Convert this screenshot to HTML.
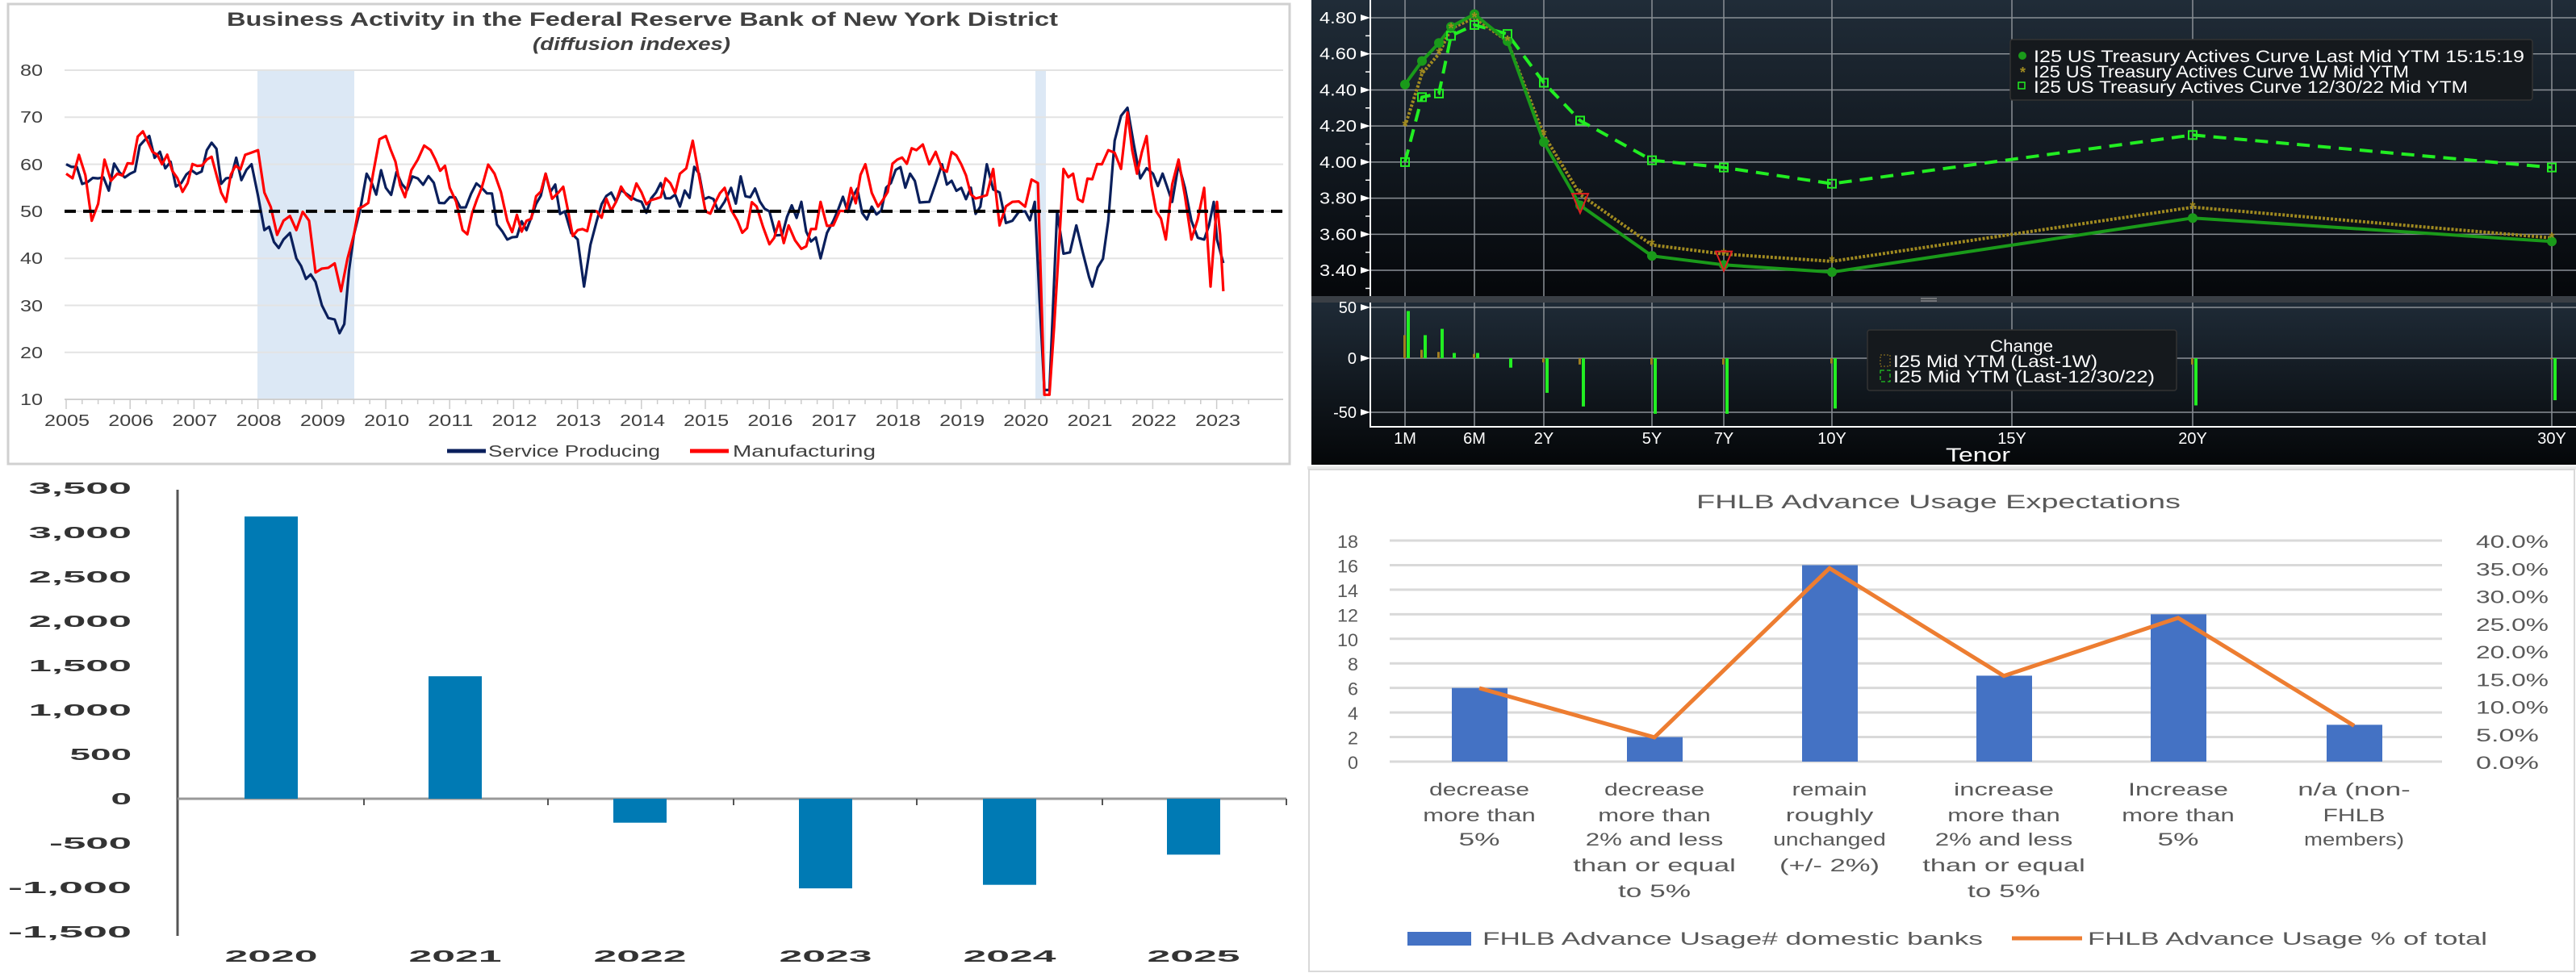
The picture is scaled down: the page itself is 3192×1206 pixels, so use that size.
<!DOCTYPE html>
<html><head><meta charset="utf-8"><style>
html,body{margin:0;padding:0;background:#fff}
svg{display:block}
text{font-family:"Liberation Sans",sans-serif}
</style></head><body>
<svg id="s" width="3192" height="1206" viewBox="0 0 3192 1206" xmlns="http://www.w3.org/2000/svg">
<defs>
<linearGradient id="dg1" x1="0" y1="0" x2="0" y2="1"><stop offset="0" stop-color="#202c38"/><stop offset="1" stop-color="#05070a"/></linearGradient>
<linearGradient id="dg2" x1="0" y1="0" x2="0" y2="1"><stop offset="0" stop-color="#1f2b37"/><stop offset="1" stop-color="#050709"/></linearGradient>
</defs>
<rect x="10" y="5" width="1588" height="570" fill="#fff" stroke="#d0d0d0" stroke-width="3"/>
<text x="281" y="32" textLength="1030" lengthAdjust="spacingAndGlyphs" font-size="24" font-weight="bold" fill="#404040">Business Activity in the Federal Reserve Bank of New York District</text>
<text x="660" y="62" textLength="245" lengthAdjust="spacingAndGlyphs" font-size="22" font-style="italic" font-weight="bold" fill="#404040">(diffusion indexes)</text>
<g id="p1"></g>
<g font-size="20" fill="#404040">
<text x="25" y="94" textLength="28" lengthAdjust="spacingAndGlyphs">80</text>
<text x="25" y="152" textLength="28" lengthAdjust="spacingAndGlyphs">70</text>
<text x="25" y="211" textLength="28" lengthAdjust="spacingAndGlyphs">60</text>
<text x="25" y="269" textLength="28" lengthAdjust="spacingAndGlyphs">50</text>
<text x="25" y="327" textLength="28" lengthAdjust="spacingAndGlyphs">40</text>
<text x="25" y="386" textLength="28" lengthAdjust="spacingAndGlyphs">30</text>
<text x="25" y="444" textLength="28" lengthAdjust="spacingAndGlyphs">20</text>
<text x="25" y="502" textLength="28" lengthAdjust="spacingAndGlyphs">10</text>
</g>
<g id="yrs" font-size="20" fill="#404040"></g>
<line x1="554" y1="559" x2="602" y2="559" stroke="#0a1f5c" stroke-width="5"/>
<text x="605" y="566" textLength="213" lengthAdjust="spacingAndGlyphs" font-size="20" fill="#404040">Service Producing</text>
<line x1="855" y1="559" x2="903" y2="559" stroke="#f00" stroke-width="5"/>
<text x="908" y="566" textLength="177" lengthAdjust="spacingAndGlyphs" font-size="20" fill="#404040">Manufacturing</text>

<rect x="1625" y="0" width="1567" height="372" fill="url(#dg1)"/>
<rect x="1625" y="372" width="1567" height="204" fill="url(#dg2)"/>
<rect x="1625" y="367" width="1567" height="8" fill="#3a3f45"/>
<rect x="1620" y="578" width="1572" height="4" fill="#e8e8e8"/>
<g id="p2"></g>

<g id="p3"></g>

<rect x="1622" y="582" width="1568" height="622" fill="#fff" stroke="#d9d9d9" stroke-width="2"/>
<text x="2402" y="630" text-anchor="middle" textLength="600" lengthAdjust="spacingAndGlyphs" font-size="24" fill="#595959">FHLB Advance Usage Expectations</text>
<g id="p4"></g>
</svg>
<script>
var NS="http://www.w3.org/2000/svg";
function el(p,t,a,txt){var e=document.createElementNS(NS,t);for(var k in a)e.setAttribute(k,a[k]);if(txt!==undefined)e.textContent=txt;document.getElementById(p).appendChild(e);return e;}
(function(){
var X=function(y){return 82+79.22*(y-2005)}, Y=function(v){return 87+(80-v)*5.83};
el('p1','rect',{x:319,y:87,width:120,height:408,fill:'#dce8f5'});
el('p1','rect',{x:1283,y:87,width:13,height:408,fill:'#dce8f5'});
for(var v=20;v<=80;v+=10) el('p1','line',{x1:80,x2:1590,y1:Y(v),y2:Y(v),stroke:'#e3e3e3','stroke-width':2});
el('p1','line',{x1:80,x2:1590,y1:495,y2:495,stroke:'#d0d0d0','stroke-width':2});
for(var i=0;i<=18*4+2;i++){var x=82+i*19.8;el('p1','line',{x1:x,x2:x,y1:495,y2:i%4==0?507:501,stroke:'#ccc','stroke-width':1.5});}
for(var y=2005;y<=2023;y++){el('yrs','text',{x:X(y)-27,y:528,textLength:56,lengthAdjust:'spacingAndGlyphs'},String(y));}
var S=[[2005,60],[2005.5,57],[2006,58],[2006.3,66],[2006.8,56],[2007.2,63],[2007.5,57],[2007.9,60],[2008.1,46],[2008.4,44],[2008.6,40],[2008.9,35],[2009.0,30],[2009.2,27],[2009.35,26],[2009.5,45],[2009.7,58],[2010,55],[2010.5,57],[2011,53],[2011.5,55],[2011.9,44],[2012.2,46],[2012.5,58],[2012.8,50],[2013.0,44],[2013.1,34],[2013.3,48],[2013.6,52],[2014,52],[2014.3,56],[2014.6,51],[2014.9,58],[2015.2,50],[2015.4,55],[2015.7,53],[2016,50],[2016.2,45],[2016.5,52],[2016.8,40],[2017,48],[2017.3,53],[2017.6,51],[2017.9,56],[2018.2,58],[2018.5,52],[2018.7,60],[2019,55],[2019.3,51],[2019.4,60],[2019.6,54],[2019.8,48],[2020,50],[2020.15,52],[2020.3,12],[2020.38,12],[2020.5,50],[2020.6,41],[2020.8,47],[2021,36],[2021.05,34],[2021.3,48],[2021.4,65],[2021.6,72],[2021.8,57],[2022,58],[2022.3,52],[2022.4,60],[2022.6,48],[2022.8,44],[2022.95,52],[2023,44],[2023.1,39]];
var M=[[2005,58],[2005.2,62],[2005.4,48],[2005.6,61],[2005.8,58],[2006.2,67],[2006.5,60],[2006.9,56],[2007.2,61],[2007.5,52],[2007.8,62],[2008,63],[2008.1,54],[2008.3,45],[2008.4,48],[2008.6,46],[2008.8,48],[2008.9,37],[2009.1,38],[2009.3,33],[2009.5,45],[2009.8,58],[2010,66],[2010.3,53],[2010.5,61],[2010.7,63],[2011,55],[2011.2,46],[2011.5,55],[2011.7,58],[2011.9,48],[2012.2,48],[2012.5,58],[2012.7,54],[2013,46],[2013.3,50],[2013.6,52],[2014,54],[2014.3,53],[2014.6,58],[2014.8,65],[2015,50],[2015.3,55],[2015.5,48],[2015.8,51],[2016,43],[2016.3,47],[2016.5,42],[2016.8,52],[2017,47],[2017.2,50],[2017.5,60],[2017.7,51],[2018,61],[2018.3,63],[2018.5,60],[2018.7,59],[2019,60],[2019.3,53],[2019.5,59],[2019.6,47],[2019.8,52],[2020,51],[2020.2,56],[2020.3,11],[2020.38,11],[2020.6,59],[2020.75,58],[2020.9,52],[2021.2,60],[2021.3,63],[2021.5,59],[2021.6,71],[2021.75,58],[2021.9,66],[2022.05,50],[2022.2,44],[2022.4,61],[2022.6,44],[2022.8,55],[2022.9,34],[2023,52],[2023.05,45],[2023.1,33]];
var seed=7;function rnd(){seed=(seed*9301+49297)%233280;return seed/233280-0.5;}
function path(P,amp){var d='';for(var i=0;i<P.length-1;i++){var a=P[i],b=P[i+1];var n=Math.max(1,Math.round((b[0]-a[0])*12));for(var k=0;k<n;k++){var t=k/n;var yy=a[0]+(b[0]-a[0])*t,vv=a[1]+(b[1]-a[1])*t;if(k>0)vv+=rnd()*amp;d+=(d?'L':'M')+X(yy).toFixed(1)+','+Y(vv).toFixed(1);}}var l=P[P.length-1];d+='L'+X(l[0])+','+Y(l[1]);return d;}
el('p1','path',{d:path(S,7),fill:'none',stroke:'#0a1f5c','stroke-width':3.2,'stroke-linejoin':'round'});
el('p1','path',{d:path(M,7),fill:'none',stroke:'#f00','stroke-width':3.2,'stroke-linejoin':'round'});
el('p1','line',{x1:80,x2:1590,y1:Y(50),y2:Y(50),stroke:'#000','stroke-width':4,'stroke-dasharray':'14 9'});
})();
(function(){
var T={'1M':1741,'2M':1762,'3M':1783,'4M':1798,'6M':1827,'1Y':1868,'2Y':1913,'3Y':1958,'5Y':2047,'7Y':2136,'10Y':2270,'15Y':2493,'20Y':2717,'30Y':3162};
var Y=function(v){return 22+(4.80-v)*223.6};
var g='#8a8f95';
['1M','6M','2Y','5Y','7Y','10Y','15Y','20Y','30Y'].forEach(function(k){el('p2','line',{x1:T[k],x2:T[k],y1:0,y2:367,stroke:g,'stroke-width':1.5});el('p2','line',{x1:T[k],x2:T[k],y1:375,y2:529,stroke:g,'stroke-width':1.5});
el('p2','text',{x:T[k],y:550,'text-anchor':'middle','font-size':20,fill:'#fff'},k);});
for(var v=3.4;v<=4.81;v+=0.2){var y=Y(v);el('p2','line',{x1:1698,x2:3192,y1:y,y2:y,stroke:g,'stroke-width':1.5});el('p2','text',{x:1681,y:y+7,'text-anchor':'end','font-size':20,fill:'#fff',textLength:46,lengthAdjust:'spacingAndGlyphs'},v.toFixed(2));el('p2','path',{d:'M1686,'+(y-4)+'L1698,'+y+'L1686,'+(y+4)+'Z',fill:'#fff'});}
for(var v=3.3;v<=4.8;v+=0.2){var y=Y(v);el('p2','line',{x1:1692,x2:1698,y1:y,y2:y,stroke:'#fff','stroke-width':1.5});}
[[50,381],[0,444],[-50,511]].forEach(function(a){el('p2','line',{x1:1698,x2:3192,y1:a[1],y2:a[1],stroke:g,'stroke-width':1.5});el('p2','text',{x:1681,y:a[1]+7,'text-anchor':'end','font-size':20,fill:'#fff'},String(a[0]));el('p2','path',{d:'M1686,'+(a[1]-4)+'L1698,'+a[1]+'L1686,'+(a[1]+4)+'Z',fill:'#fff'});});
el('p2','line',{x1:1698,x2:1698,y1:0,y2:367,stroke:'#fff','stroke-width':2});
el('p2','line',{x1:1698,x2:1698,y1:375,y2:530,stroke:'#fff','stroke-width':2});
el('p2','line',{x1:1698,x2:3192,y1:529,y2:529,stroke:'#fff','stroke-width':2});
el('p2','line',{x1:2380,x2:2400,y1:370,y2:370,stroke:'#aaa','stroke-width':1});
el('p2','line',{x1:2380,x2:2400,y1:373,y2:373,stroke:'#aaa','stroke-width':1});
el('p2','text',{x:2451,y:572,'text-anchor':'middle','font-size':24,fill:'#fff',textLength:80,lengthAdjust:'spacingAndGlyphs'},'Tenor');
var K=['1M','2M','3M','4M','6M','1Y','2Y','3Y','5Y','7Y','10Y','20Y','30Y'];
var L=[4.43,4.56,4.66,4.75,4.82,4.67,4.11,3.76,3.48,3.43,3.39,3.69,3.56];
var W=[4.20,4.49,4.60,4.74,4.80,4.67,4.15,3.82,3.54,3.49,3.45,3.75,3.58];
var D=[4.00,4.36,4.38,4.70,4.76,4.71,4.44,4.23,4.01,3.97,3.88,4.15,3.97];
function pts(A){return K.map(function(k,i){return T[k]+','+Y(A[i]).toFixed(1)}).join(' ');}
var G={'1M':45,'2M':22,'3M':28,'4M':5,'6M':5,'1Y':-9,'2Y':-33,'3Y':-46,'5Y':-53,'7Y':-53,'10Y':-48,'20Y':-45,'30Y':-40};
var O={'1M':22,'2M':8,'3M':6,'6M':4,'2Y':-4,'3Y':-6,'5Y':-6,'7Y':-6,'10Y':-5,'20Y':-6,'30Y':-1};
for(var k in O){var v=O[k];el('p2','rect',{x:T[k]-2,y:v>0?444-v*1.3:444,width:3,height:Math.abs(v)*1.3,fill:'#a08020'});}
for(var k in G){var v=G[k];el('p2','rect',{x:T[k]+2,y:v>0?444-v*1.3:444,width:4,height:Math.abs(v)*1.3,fill:'#22ee22'});}
el('p2','polyline',{points:pts(D),fill:'none',stroke:'#22ee22','stroke-width':4,'stroke-dasharray':'16 10'});
el('p2','polyline',{points:pts(W),fill:'none',stroke:'#a08a20','stroke-width':4,'stroke-dasharray':'3 2'});
el('p2','polyline',{points:pts(L),fill:'none',stroke:'#1a9a1a','stroke-width':4});
K.forEach(function(k,i){el('p2','rect',{x:T[k]-5,y:Y(D[i])-5,width:10,height:10,fill:'none',stroke:'#22ee22','stroke-width':2});
el('p2','circle',{cx:T[k],cy:Y(L[i]),r:6,fill:'#1a9a1a'});
el('p2','text',{x:T[k],y:Y(W[i])+6,'text-anchor':'middle','font-size':18,fill:'#a08a20','font-weight':'bold'},'*');});
['3Y','7Y'].forEach(function(k,i){var y=Y([3.78,3.46][i]);el('p2','path',{d:'M'+(T[k]-10)+','+(y-10)+'L'+(T[k]+10)+','+(y-10)+'L'+T[k]+','+(y+14)+'Z',fill:'none',stroke:'#e02020','stroke-width':2});});
el('p2','rect',{x:2491,y:49,width:647,height:75,rx:3,fill:'#15191d',stroke:'#333','stroke-width':1.5});
el('p2','circle',{cx:2506,cy:69,r:5,fill:'#1a9a1a'});
el('p2','text',{x:2503,y:96,'font-size':18,fill:'#a08a20','font-weight':'bold'},'*');
el('p2','rect',{x:2501,y:102,width:8,height:8,fill:'none',stroke:'#22ee22','stroke-width':1.5});
el('p2','text',{x:2520,y:77,'font-size':21,fill:'#fff',textLength:608,lengthAdjust:'spacingAndGlyphs'},'I25 US Treasury Actives Curve Last Mid YTM 15:15:19');
el('p2','text',{x:2520,y:96,'font-size':21,fill:'#fff',textLength:465,lengthAdjust:'spacingAndGlyphs'},'I25 US Treasury Actives Curve 1W Mid YTM');
el('p2','text',{x:2520,y:115,'font-size':21,fill:'#fff',textLength:538,lengthAdjust:'spacingAndGlyphs'},'I25 US Treasury Actives Curve 12/30/22 Mid YTM');
el('p2','rect',{x:2314,y:409,width:383,height:75,rx:3,fill:'#15191d',stroke:'#333','stroke-width':1.5});
el('p2','text',{x:2505,y:436,'text-anchor':'middle','font-size':21,fill:'#fff',textLength:78,lengthAdjust:'spacingAndGlyphs'},'Change');
el('p2','rect',{x:2330,y:440,width:12,height:14,fill:'none',stroke:'#a08020','stroke-width':1,'stroke-dasharray':'2 2'});
el('p2','rect',{x:2330,y:459,width:12,height:14,fill:'none',stroke:'#22ee22','stroke-width':1,'stroke-dasharray':'5 3'});
el('p2','text',{x:2346,y:455,'font-size':21,fill:'#fff',textLength:253,lengthAdjust:'spacingAndGlyphs'},'I25 Mid YTM (Last-1W)');
el('p2','text',{x:2346,y:474,'font-size':21,fill:'#fff',textLength:324,lengthAdjust:'spacingAndGlyphs'},'I25 Mid YTM (Last-12/30/22)');
})();
(function(){
var Z=990,s=0.11;
el('p3','line',{x1:220,x2:220,y1:607,y2:1160,stroke:'#555','stroke-width':3});
el('p3','line',{x1:220,x2:1594,y1:Z,y2:Z,stroke:'#999','stroke-width':3});
[451,679,909,1136,1366,1594].forEach(function(x){el('p3','line',{x1:x,x2:x,y1:Z,y2:Z+8,stroke:'#555','stroke-width':2});});
var lab=['3,500','3,000','2,500','2,000','1,500','1,000','500','0','-500','-1,000','-1,500'];
lab.forEach(function(t,i){var y=605+i*55;var w=t.length*25.5;el('p3','text',{x:163,y:y+7,'text-anchor':'end','font-size':20,'font-weight':'bold',fill:'#333',textLength:w,lengthAdjust:'spacingAndGlyphs'},t);});
var c=[336,564,793,1023,1251,1479],v=[3180,1380,-270,-1010,-970,-630],yr=['2020','2021','2022','2023','2024','2025'];
c.forEach(function(x,i){var h=Math.abs(v[i])*s;el('p3','rect',{x:x-33,y:v[i]>0?Z-h:Z,width:66,height:h,fill:'#007ab4'});
el('p3','text',{x:x,y:1192,'text-anchor':'middle','font-size':20,'font-weight':'bold',fill:'#333',textLength:115,lengthAdjust:'spacingAndGlyphs'},yr[i]);});
})();
(function(){
var Y=function(n){return 944-n*15.22};
for(var n=0;n<=18;n+=2){el('p4','line',{x1:1722,x2:3026,y1:Y(n),y2:Y(n),stroke:'#d9d9d9','stroke-width':3});
el('p4','text',{x:1683,y:Y(n)+9,'text-anchor':'end','font-size':22,fill:'#595959',textLength:n>=10?26:13,lengthAdjust:'spacingAndGlyphs'},String(n));}
for(var p=0;p<=40;p+=5){var y=944-p/40*274;var t=p.toFixed(1)+'%';el('p4','text',{x:3068,y:y+9,'font-size':22,fill:'#595959',textLength:t.length==5?90:78,lengthAdjust:'spacingAndGlyphs'},t);}
var c=[1833,2050,2267,2483,2699,2917],v=[6,2,16,7,12,3],pc=[13.3,4.4,35,15.5,26,6.5];
c.forEach(function(x,i){el('p4','rect',{x:x-34,y:Y(v[i]),width:69,height:944-Y(v[i]),fill:'#4472c4'});});
el('p4','polyline',{points:c.map(function(x,i){return x+','+(944-pc[i]/40*274).toFixed(1)}).join(' '),fill:'none',stroke:'#ed7d31','stroke-width':5});
var labs=[['decrease','more than','5%'],['decrease','more than','2% and less','than or equal','to 5%'],['remain','roughly','unchanged','(+/- 2%)'],['increase','more than','2% and less','than or equal','to 5%'],['Increase','more than','5%'],['n/a (non-','FHLB','members)']];
var ys=[986,1018,1048,1080,1112];
labs.forEach(function(L,i){L.forEach(function(t,j){var w=t.length>5?t.length*15.5:t.length*13+25;el('p4','text',{x:c[i],y:ys[j],'text-anchor':'middle','font-size':22,fill:'#595959',textLength:w,lengthAdjust:'spacingAndGlyphs'},t);});});
el('p4','rect',{x:1744,y:1155,width:79,height:17,fill:'#4472c4'});
el('p4','text',{x:1837,y:1171,'font-size':22,fill:'#595959',textLength:620,lengthAdjust:'spacingAndGlyphs'},'FHLB Advance Usage# domestic banks');
el('p4','line',{x1:2493,x2:2580,y1:1163,y2:1163,stroke:'#ed7d31','stroke-width':5});
el('p4','text',{x:2587,y:1171,'font-size':22,fill:'#595959',textLength:495,lengthAdjust:'spacingAndGlyphs'},'FHLB Advance Usage % of total');
})();
</script>
</body></html>
